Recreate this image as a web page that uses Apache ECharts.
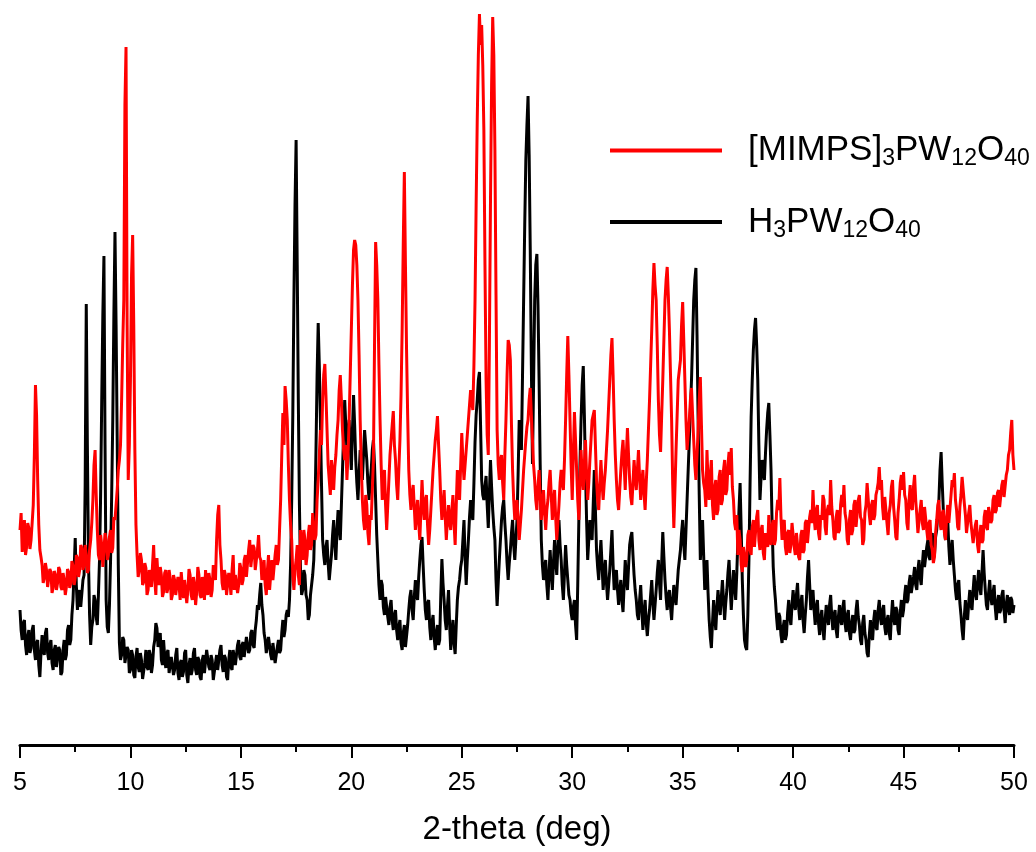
<!DOCTYPE html>
<html>
<head>
<meta charset="utf-8">
<script src="https://cdn.jsdelivr.net/npm/echarts@6/dist/echarts.min.js"></script>
<style>
html,body{margin:0;padding:0;background:#fff;}
#chart{width:1036px;height:852px;}
</style>
</head>
<body>
<div id="chart"></div>
<script>
// scan grid: 2-theta from 5 to 50 deg, step 0.05 deg
var scanStart = 5, scanStep = 0.05;
var xTicks = [5, 10, 15, 20, 25, 30, 35, 40, 45, 50];

// [MIMPS]3PW12O40 intensity (a.u.), 20 values per degree
var redCounts = [
215,232,193,210,225,190,198,222,217,196,205,222,240,290,360,330,265,220,195,188,
180,162,167,182,175,158,160,176,173,152,157,174,170,155,162,178,175,158,155,172,
165,150,158,176,173,157,162,184,179,160,167,190,187,168,175,200,197,175,180,200,
190,172,175,195,205,222,245,280,295,250,215,190,185,210,200,178,180,212,205,185,
190,208,215,192,197,228,225,240,255,275,285,300,345,400,445,640,698,420,265,300,
365,470,510,420,295,220,190,168,175,192,185,160,163,182,177,150,155,175,170,158,
180,200,165,150,187,168,160,178,170,148,153,172,175,152,157,175,167,145,150,170,
165,150,149,168,160,145,173,158,147,165,163,142,155,176,170,150,145,168,160,140,
153,178,170,150,147,168,163,145,175,160,150,172,165,148,155,180,180,165,205,230,
240,200,185,162,155,175,170,150,150,172,165,150,175,190,155,170,170,152,160,182,
177,160,165,185,190,168,170,195,205,178,180,200,197,175,173,195,210,188,185,165,
170,185,160,150,175,190,155,170,185,165,167,190,200,180,185,215,245,290,332,300,
359,345,325,280,245,220,205,170,155,175,185,200,170,160,215,200,185,215,205,180,
190,210,220,195,200,232,230,205,210,245,265,290,315,300,345,370,381,350,315,280,
265,250,285,270,255,278,290,310,325,355,370,345,315,295,285,300,265,290,325,370,
415,460,495,505,500,480,445,390,325,280,245,225,215,250,240,212,200,230,225,255,
285,400,503,480,445,380,325,280,245,262,275,240,215,240,265,290,305,320,334,300,
285,260,245,275,305,350,415,500,573,480,395,330,275,250,235,252,260,238,215,232,
245,222,205,235,265,240,225,245,250,220,200,215,235,255,275,290,305,315,329,300,
275,245,225,240,255,228,205,225,240,222,215,235,250,222,200,240,275,260,245,280,
312,285,265,280,295,310,325,340,355,345,335,380,445,540,625,690,731,700,720,680,
615,480,365,310,290,400,545,660,728,690,595,450,315,280,265,285,290,262,245,290,
325,370,405,400,385,320,275,245,225,240,245,225,205,220,235,255,275,290,305,318,
325,345,357,330,305,280,265,245,235,258,275,250,225,240,255,232,215,235,245,262,
275,250,225,242,255,228,205,222,240,262,275,262,255,285,325,370,409,370,325,280,
245,290,333,305,275,245,225,260,295,270,255,282,305,270,245,262,285,305,325,330,
335,300,265,245,235,262,285,262,245,262,275,295,315,340,365,390,407,370,325,290,
265,245,235,255,275,292,305,280,255,290,317,290,265,248,240,262,285,268,255,275,
295,268,245,262,275,252,235,262,285,315,345,380,415,455,482,460,445,400,345,310,
293,330,365,405,445,465,478,450,415,370,325,260,217,255,295,330,365,375,385,420,
443,405,365,325,295,310,325,345,357,330,305,280,265,290,315,345,368,320,275,262,
255,238,295,262,245,270,285,240,225,258,265,230,235,268,275,240,245,275,285,250,
255,280,293,270,297,258,245,222,215,230,190,215,205,180,173,198,200,178,185,210,
215,195,190,218,225,198,200,228,235,205,195,215,220,192,185,212,210,198,230,208,
200,220,225,200,205,232,245,235,267,228,205,222,225,198,190,212,215,192,200,222,
220,198,190,212,210,188,185,210,215,192,195,222,225,202,200,228,235,222,255,228,
215,235,240,212,205,230,225,250,245,218,210,235,240,230,265,238,225,208,205,228,
235,212,215,240,250,238,260,232,225,205,200,225,235,210,215,240,245,218,220,245,
250,228,225,200,205,232,240,262,260,230,220,240,245,225,230,250,255,262,278,255,
265,238,225,248,250,222,210,232,240,258,265,238,225,208,205,232,245,262,270,255,
273,250,245,222,215,245,260,238,235,258,270,245,230,212,210,235,245,222,215,238,
240,215,205,222,225,200,195,182,188,212,225,240,245,222,215,232,235,212,205,228,
240,222,220,250,265,258,272,245,235,218,215,238,250,268,268,242,230,212,210,232,
240,222,220,202,200,220,225,200,192,210,220,202,205,228,235,218,215,238,240,222,
225,245,250,232,235,252,255,238,240,260,265,248,250,270,275,290,295,312,325,290,
275
];

// H3PW12O40 intensity (a.u.), 20 values per degree
var blackCounts = [
135,115,105,122,125,100,90,108,115,92,97,115,120,95,85,102,105,80,68,92,
110,95,90,112,117,92,85,100,105,82,75,95,100,78,80,98,95,70,73,95,
105,85,90,115,120,100,105,130,145,175,207,160,135,150,155,138,140,165,170,260,
441,300,185,130,100,118,125,150,145,128,120,150,185,250,345,430,489,300,145,118,
112,140,185,250,325,430,513,420,305,180,102,85,90,108,105,82,80,98,95,72,
75,95,90,70,67,88,97,78,73,92,85,66,65,82,95,78,75,95,90,72,
80,98,105,122,117,98,100,112,85,80,105,88,77,92,95,72,70,88,90,70,
75,90,97,72,65,82,85,68,73,92,95,70,62,80,87,70,75,92,97,75,
70,88,85,68,65,85,90,72,73,95,95,78,75,90,85,65,63,82,90,75,
77,95,100,80,73,90,87,68,65,85,95,78,75,95,97,80,80,100,105,88,
85,100,103,88,90,108,110,92,95,112,115,100,97,115,125,140,135,150,162,140,
130,112,105,92,90,108,110,90,85,102,100,82,80,98,105,92,95,112,125,108,
115,130,135,128,145,180,245,330,445,540,605,480,345,240,175,150,155,175,170,150,
145,125,130,150,160,170,185,230,295,370,422,380,325,260,205,190,180,198,205,182,
165,178,190,210,225,200,185,215,235,218,205,240,275,310,345,320,295,312,325,300,
275,315,350,320,285,262,245,270,295,278,265,290,315,300,285,262,245,262,275,295,
305,280,245,210,185,160,145,165,160,138,130,148,150,128,120,138,145,125,115,130,
135,115,105,118,125,102,95,112,120,98,100,120,135,148,155,135,125,148,165,150,
145,168,185,200,208,180,155,135,125,142,145,118,105,122,130,108,95,112,120,100,
105,150,186,162,145,125,115,138,155,120,95,112,125,102,91,120,145,158,165,178,
185,205,225,188,160,185,205,228,245,232,225,262,303,330,345,365,373,320,265,250,
245,258,269,240,217,252,285,258,235,218,205,165,139,162,185,205,225,238,245,222,
205,182,165,182,195,212,225,200,185,205,225,270,325,310,295,370,445,520,585,620,
649,590,495,380,281,360,445,480,491,440,365,280,205,180,165,178,185,160,145,172,
195,172,155,182,205,185,170,198,225,200,185,160,145,172,200,180,165,150,145,132,
125,138,145,120,105,160,225,280,325,360,379,330,275,225,185,205,225,212,205,240,
275,235,195,178,165,188,205,180,155,172,185,162,145,160,175,195,215,180,155,168,
175,155,140,155,165,145,133,160,185,168,155,178,200,208,213,190,170,155,145,130,
125,145,160,135,115,132,145,122,109,125,135,150,165,142,125,140,155,172,185,162,
145,182,213,188,165,148,135,150,155,138,125,145,160,148,140,158,175,185,195,212,
225,200,185,215,245,275,305,335,365,405,445,465,477,410,325,250,185,205,225,190,
155,170,185,152,125,108,97,122,145,128,115,138,155,140,130,148,165,145,125,142,
155,172,185,158,135,155,175,160,145,172,205,235,262,215,165,130,105,98,95,130,
185,260,328,365,395,415,427,400,365,300,245,268,285,272,265,292,315,332,342,310,
275,220,178,158,145,128,115,132,128,110,102,118,125,105,110,132,145,128,120,140,
155,140,135,150,162,138,125,142,150,125,112,130,145,168,185,160,135,148,155,135,
120,138,145,122,110,128,135,115,105,125,140,128,120,140,150,128,115,130,135,115,
107,128,140,125,120,138,145,122,113,130,135,112,105,122,130,112,115,135,145,128,
120,105,100,122,130,112,105,92,88,110,125,108,105,125,135,118,115,135,145,128,
120,135,140,118,110,125,130,112,105,128,145,128,120,138,135,115,110,132,145,128,
135,150,160,142,145,162,170,152,150,168,178,160,155,175,185,168,160,180,195,178,
180,198,205,188,185,205,212,195,190,208,215,232,245,275,293,262,235,215,205,220,
225,198,180,195,205,185,170,155,145,160,165,142,130,115,105,128,145,130,125,142,
155,140,135,155,170,152,145,162,175,158,150,172,195,172,155,140,135,152,165,148,
140,152,160,138,125,142,150,132,135,150,155,135,122,140,150,135,130,148,145,132,
140
];

var seriesNames = ['MIMPS', 'HPW'];
var legendLabels = {
  MIMPS: '{n|[MIMPS]}{s|3}{n|PW}{s|12}{n|O}{s|40}',
  HPW: '{n|H}{s|3}{n|PW}{s|12}{n|O}{s|40}'
};

function pairs(vals) {
  var out = [];
  for (var i = 0; i < vals.length; i++) {
    out.push([+(scanStart + i * scanStep).toFixed(2), vals[i]]);
  }
  return out;
}

var chart = echarts.init(document.getElementById('chart'), null, {renderer: 'canvas'});
var font = 'Arial, "Liberation Sans", sans-serif';
var opt = {
  animation: false,
  backgroundColor: '#ffffff',
  grid: {left: 20, right: 22, top: 10, bottom: 107, containLabel: false},
  legend: {
    orient: 'vertical',
    left: 610,
    top: 133,
    padding: 0,
    itemGap: 34,
    itemWidth: 112,
    itemHeight: 4,
    icon: 'rect',
    data: seriesNames,
    formatter: function (name) { return legendLabels[name]; },
    textStyle: {
      fontFamily: font,
      color: '#000',
      padding: [0, 0, 0, 21],
      rich: {
        n: {fontFamily: font, fontSize: 35, color: '#000', lineHeight: 40},
        s: {fontFamily: font, fontSize: 23, color: '#000', lineHeight: 22, verticalAlign: 'bottom'}
      }
    }
  },
  xAxis: {
    type: 'value',
    min: 5,
    max: 50,
    interval: 5,
    name: '2-theta (deg)',
    nameLocation: 'middle',
    nameGap: 68,
    nameTextStyle: {fontFamily: font, fontSize: 33, color: '#000'},
    axisLine: {show: true, onZero: false, lineStyle: {color: '#000', width: 3}},
    axisTick: {show: true, length: 13, lineStyle: {color: '#000', width: 2}},
    minorTick: {show: true, splitNumber: 2, length: 7, lineStyle: {color: '#000', width: 2}},
    axisLabel: {
      fontFamily: font, fontSize: 25, color: '#000', margin: 26,
      formatter: function (v) { return xTicks.indexOf(v) >= 0 ? String(v) : ''; }
    },
    splitLine: {show: false}
  },
  yAxis: {
    type: 'value',
    min: 0,
    max: 735,
    show: false,
    splitLine: {show: false}
  },
  series: [
    {
      name: 'HPW',
      type: 'line',
      data: pairs(blackCounts),
      showSymbol: false,
      symbol: 'none',
      lineStyle: {color: '#000000', width: 3},
      itemStyle: {color: '#000000'},
      z: 2
    },
    {
      name: 'MIMPS',
      type: 'line',
      data: pairs(redCounts),
      showSymbol: false,
      symbol: 'none',
      lineStyle: {color: '#ff0000', width: 3},
      itemStyle: {color: '#ff0000'},
      z: 3
    }
  ]
};
if (redCounts.length !== 901 || blackCounts.length !== 901) {
  opt.title = {text: 'len ' + redCounts.length + ' / ' + blackCounts.length, left: 100, top: 20};
}
chart.setOption(opt);
</script>
</body>
</html>
